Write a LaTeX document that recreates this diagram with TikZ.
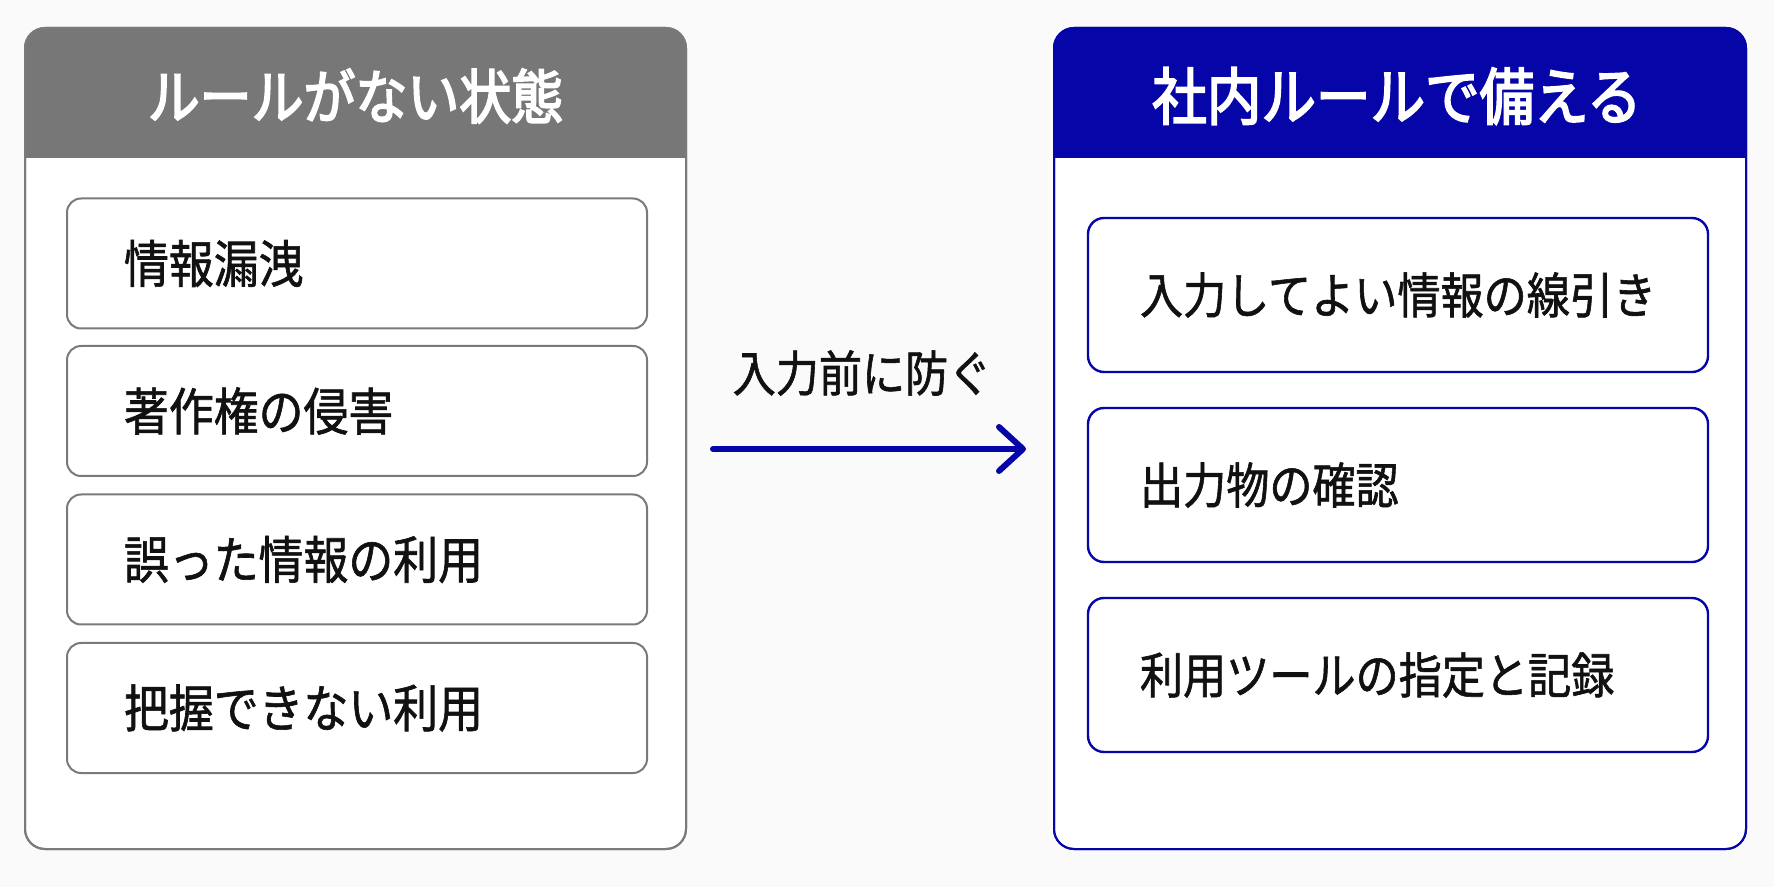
\documentclass[tikz,border=0pt]{standalone}
\usepackage{fontspec}
\usetikzlibrary{arrows.meta}
\newfontfamily\jp[FakeStretch=0.88,FakeBold=1.2]{Noto Sans CJK JP}
\newfontfamily\jph[FakeStretch=0.88,FakeBold=3]{Noto Sans CJK JP}
\definecolor{bgc}{HTML}{FAFAFA}
\definecolor{graybar}{HTML}{777777}
\definecolor{grayline}{HTML}{7A7A7A}
\definecolor{bluebar}{HTML}{0505A8}
\definecolor{txt}{HTML}{111111}
\tikzset{
  panel/.style={draw=#1, line width=1pt, rounded corners=10pt, fill=white, inner sep=0pt},
  headtxt/.style={text=white},
  leftitem/.style={draw=grayline, line width=1pt, rounded corners=7pt, fill=white,
    minimum width=290pt, minimum height=65pt, inner xsep=28.5pt, text width=233pt,
    align=left, text=txt, font=\jp\fontsize{25.5pt}{30pt}\selectfont},
  rightitem/.style={draw=bluebar, line width=1.2pt, rounded corners=8pt, fill=white,
    minimum width=310pt, minimum height=77pt, inner xsep=26pt, text width=258pt,
    align=left, text=txt, font=\jp\fontsize{24.5pt}{29pt}\selectfont},
  arr/.style={draw=bluebar, line width=3pt, line cap=round,
    -{Straight Barb[length=12pt,width=22pt,line width=3pt,round]}},
}
\begin{document}
\begin{tikzpicture}[x=0.5pt,y=-0.5pt]
\fill[bgc] (0,0) rectangle (1774,887);
\useasboundingbox (0,0) rectangle (1774,887);
% left panel
\node[panel=grayline, minimum width=330.5pt, minimum height=410.5pt] (L) at (355.5,438.5) {};
\begin{scope}
  \clip[rounded corners=10pt] (25,28) rectangle (686,849);
  \fill[graybar] (25,28) rectangle (686,158);
\end{scope}
\draw[grayline, line width=1pt, rounded corners=10pt] (25,28) rectangle (686,849);
\node[headtxt, font=\jph\fontsize{29.5pt}{34pt}\selectfont] (Lh) at (355.5,96) {ルールがない状態};
% right panel
\node[panel=bluebar, minimum width=346pt, minimum height=410.5pt] (R) at (1400,438.5) {};
\begin{scope}
  \clip[rounded corners=10pt] (1054,28) rectangle (1746,849);
  \fill[bluebar] (1054,28) rectangle (1746,158);
\end{scope}
\draw[bluebar, line width=1pt, rounded corners=10pt] (1054,28) rectangle (1746,849);
\node[headtxt, font=\jph\fontsize{31pt}{36pt}\selectfont] (Rh) at (1397,96) {社内ルールで備える};
% left items
\node[leftitem] (l1) at (357,263.5) {情報漏洩};
\node[leftitem] (l2) at (357,411) {著作権の侵害};
\node[leftitem] (l3) at (357,559.5) {誤った情報の利用};
\node[leftitem] (l4) at (357,708) {把握できない利用};
% right items
\node[rightitem] (r1) at (1398,295) {入力してよい情報の線引き};
\node[rightitem] (r2) at (1398,485) {出力物の確認};
\node[rightitem] (r3) at (1398,675) {利用ツールの指定と記録};
% arrow
\coordinate (as) at (713,449);
\coordinate (ae) at (1026,449);
\draw[arr] (as) -- (ae);
\node[text=txt, font=\jp\fontsize{24.5pt}{29pt}\selectfont] (lab) at (862,373) {入力前に防ぐ};
\end{tikzpicture}
\end{document}
